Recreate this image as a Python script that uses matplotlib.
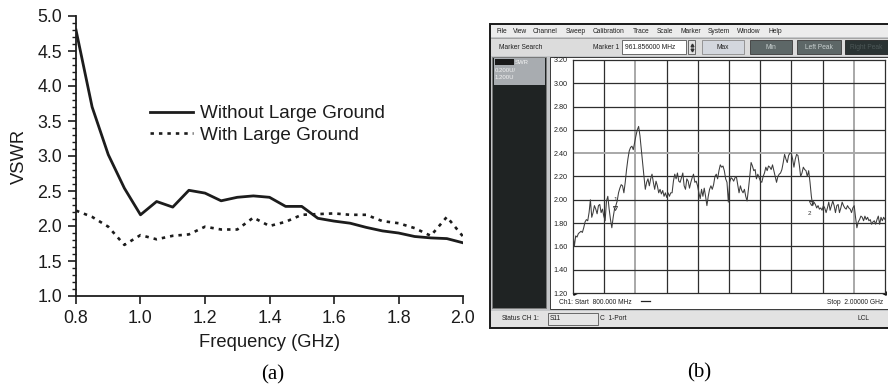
import numpy as np
import matplotlib
matplotlib.use("Agg")
import matplotlib.pyplot as plt
from matplotlib.patches import Rectangle
from matplotlib.ticker import MultipleLocator

# ---------------- data: panel (a) ----------------
freq_a = [0.80, 0.85, 0.90, 0.95, 1.00, 1.05, 1.10, 1.15, 1.20, 1.25, 1.30, 1.35, 1.40,
          1.45, 1.50, 1.55, 1.60, 1.65, 1.70, 1.75, 1.80, 1.85, 1.90, 1.95, 2.00]
vswr_without = [4.80, 3.70, 3.02, 2.54, 2.16, 2.35, 2.27, 2.51, 2.47, 2.36, 2.41, 2.43, 2.41,
                2.28, 2.28, 2.11, 2.07, 2.04, 1.98, 1.93, 1.90, 1.85, 1.83, 1.82, 1.76]
vswr_with = [2.22, 2.13, 1.99, 1.73, 1.87, 1.81, 1.86, 1.88, 1.99, 1.95, 1.95, 2.12, 2.00,
             2.06, 2.16, 2.17, 2.18, 2.16, 2.16, 2.07, 2.04, 1.97, 1.86, 2.13, 1.85]
legend_labels = ["Without Large Ground", "With Large Ground"]

# ---------------- data: panel (b) (VNA screenshot) ----------------
vna_start_ghz = 0.8
vna_stop_ghz = 2.0
vna_vswr = [
    1.71, 1.60, 1.69, 1.68, 1.71, 1.72, 1.73, 1.72, 1.76, 1.81, 1.83, 1.82, 1.89, 2.00, 1.85,
    1.89, 1.95, 1.92, 1.88, 1.95, 1.96, 1.89, 1.92, 1.86, 1.82, 1.99, 2.03, 1.92, 1.83,
    1.76, 1.85, 1.92, 1.95, 1.99, 2.06, 2.10, 2.13, 2.12, 2.06, 2.15, 2.26, 2.35, 2.42, 2.45,
    2.46, 2.43, 2.49, 2.55, 2.60,
    2.63, 2.55, 2.43, 2.32, 2.20, 2.09, 2.15, 2.18, 2.12, 2.18, 2.22, 2.15, 2.09, 2.16, 2.12,
    2.06, 2.09, 2.05, 2.08, 2.03, 2.06, 2.02, 2.06, 2.03, 2.06, 2.06, 2.16, 2.22, 2.18, 2.23,
    2.16, 2.15, 2.19, 2.23, 2.12, 2.09, 2.18, 2.16, 2.10, 2.15, 2.19, 2.22, 2.15, 2.16, 2.12,
    2.06, 2.01, 2.09, 2.03, 2.10, 2.03, 1.95, 2.03, 2.09, 2.12, 2.09, 2.13, 2.20, 2.22, 2.18,
    2.25, 2.30, 2.28, 2.29, 2.25, 2.18, 2.15, 1.98, 2.15, 2.19, 2.18, 2.16, 2.19, 2.20, 2.13,
    2.06, 2.12, 2.08, 2.06, 2.09, 2.03, 1.99, 2.09, 2.20, 2.32, 2.29, 2.25, 2.26, 2.18, 2.22,
    2.19, 2.16, 2.15, 2.20, 2.23, 2.28, 2.25, 2.29, 2.28, 2.26, 2.30, 2.25, 2.20, 2.15, 2.20,
    2.22, 2.23, 2.26, 2.32, 2.39, 2.35, 2.32, 2.38, 2.40, 2.40, 2.35, 2.28, 2.35, 2.39, 2.38,
    2.30, 2.20, 2.23, 2.28, 2.26, 2.25, 2.20, 2.25, 2.15, 2.03, 1.95, 1.98, 1.96, 1.93, 1.95,
    1.92, 1.93, 1.91, 1.95, 1.93, 1.89, 1.93, 1.98, 1.91, 1.95, 1.99, 1.95, 1.89, 1.95, 1.96,
    1.89, 1.93, 1.98, 1.95, 1.93, 1.92, 1.95, 1.93, 1.92, 1.89, 1.93, 1.95, 1.85, 1.76, 1.81,
    1.83, 1.86, 1.85, 1.82, 1.86, 1.83, 1.85, 1.82, 1.83, 1.79, 1.81, 1.82, 1.79, 1.83, 1.86,
    1.79, 1.85, 1.82, 1.85, 1.83]
vna_freq = np.linspace(vna_start_ghz, vna_stop_ghz, len(vna_vswr))  # evenly spaced sweep points
marker_ids = ["1", "2"]
marker_freq = [0.961856, 1.714484]
marker_val = [1.898, 1.987]
marker_freq_text = ["961.856000 MHz", "1.714484 GHz"]
menu_items = ["File", "View", "Channel", "Sweep", "Calibration", "Trace", "Scale",
              "Marker", "System", "Window", "Help"]
vna_yticks = [1.20, 1.40, 1.60, 1.80, 2.00, 2.20, 2.40, 2.60, 2.80, 3.00, 3.20]

# ---------------- figure ----------------
W, H = 888, 389
fig = plt.figure(figsize=(W / 100, H / 100), dpi=100)
fig.patch.set_facecolor("white")
SANS = ["Liberation Sans", "DejaVu Sans"]
SERIF = ["Liberation Serif", "DejaVu Serif"]

def fbox(x0, y0, x1, y1):
    return [x0 / W, 1 - y1 / H, (x1 - x0) / W, (y1 - y0) / H]

# ---- panel (a)
ax = fig.add_axes(fbox(76, 16, 463, 296))
ax.plot(freq_a, vswr_without, color="#1c1c1c", lw=2.0, label=legend_labels[0])
ax.plot(freq_a, vswr_with, color="#1c1c1c", lw=1.9, ls=(0, (1.3, 1.9)), label=legend_labels[1])
ax.set_xlim(0.8, 2.0)
ax.set_ylim(1.0, 5.0)
ax.xaxis.set_major_locator(MultipleLocator(0.2))
ax.yaxis.set_major_locator(MultipleLocator(0.5))
ax.yaxis.set_minor_locator(MultipleLocator(0.1))
ax.xaxis.set_major_formatter(matplotlib.ticker.FormatStrFormatter("%.1f"))
ax.yaxis.set_major_formatter(matplotlib.ticker.FormatStrFormatter("%.1f"))
for s in ["top", "right"]:
    ax.spines[s].set_visible(False)
for s in ["left", "bottom"]:
    ax.spines[s].set_linewidth(1.3)
    ax.spines[s].set_color("#1c1c1c")
ax.tick_params(which="major", direction="out", length=5.5, width=1.2, pad=4.5, labelsize=12.8,
               colors="#1c1c1c")
ax.tick_params(which="minor", direction="out", length=3, width=1.0, colors="#1c1c1c")
for lab in ax.get_xticklabels() + ax.get_yticklabels():
    lab.set_family(SANS)
ax.set_xlabel("Frequency (GHz)", fontsize=13.2, family=SANS, labelpad=5, color="#1c1c1c")
ax.set_ylabel("VSWR", fontsize=13.2, family=SANS, labelpad=7, color="#1c1c1c")
leg = ax.legend(loc="upper left", bbox_to_anchor=(150 / W, 1 - 105 / H),
                bbox_transform=fig.transFigure, frameon=False,
                handlelength=2.3, handletextpad=0.33, labelspacing=0.22,
                borderpad=0, borderaxespad=0, prop={"family": SANS, "size": 13.6})
for t in leg.get_texts():
    t.set_color("#1c1c1c")

fig.text(273 / W, 1 - 375 / H, "(a)", family=SERIF, fontsize=15, ha="center", va="center")
fig.text(699 / W, 1 - 373 / H, "(b)", family=SERIF, fontsize=15, ha="center", va="center")

# ---- panel (b): screenshot chrome drawn in pixel coordinates
g = fig.add_axes([0, 0, 1, 1])
g.set_xlim(0, W)
g.set_ylim(H, 0)
g.axis("off")
g.patch.set_alpha(0)

def rect(x0, y0, x1, y1, fc, ec="none", lw=0.6, z=1):
    g.add_patch(Rectangle((x0, y0), x1 - x0, y1 - y0, facecolor=fc, edgecolor=ec, lw=lw, zorder=z))

def txt(x, y, s, size=4.8, color="#202020", ha="left", z=5, weight="normal"):
    g.text(x, y, s, fontsize=size, color=color, ha=ha, va="center", family=SANS, zorder=z,
           weight=weight)

rect(490, 24, 889, 328, "#c4c6c8", "#1a1a1a", lw=1.4)
rect(491, 25, 888, 37, "#ececec")
g.plot([491, 888], [37.5, 37.5], color="#9a9a9a", lw=0.6, zorder=2)
menu_x = [496, 513, 533, 566, 593, 633, 657, 680, 708, 737, 768]
for mx, m in zip(menu_x, menu_items):
    txt(mx, 31.5, m)
rect(491, 38, 888, 56, "#dcdcdc")
txt(499, 47, "Marker Search")
txt(593, 47, "Marker 1")
rect(622, 40, 686, 54, "white", "#555555", lw=0.6)
txt(625, 47, marker_freq_text[0])
rect(688, 40, 695, 54, "#e2e2e2", "#555555", lw=0.6)
g.plot([691.5], [44.5], marker="^", ms=2, color="#333333", zorder=5)
g.plot([691.5], [49.5], marker="v", ms=2, color="#333333", zorder=5)
rect(702, 40, 744, 54, "#d3d7de", "#8a8a8a", lw=0.6)
txt(723, 47, "Max", ha="center")
rect(750, 40, 792, 54, "#5d6767", "#3a3a3a", lw=0.6)
txt(771, 47, "Min", ha="center", color="#c8d0d0")
rect(797, 40, 841, 54, "#5d6767", "#3a3a3a", lw=0.6)
txt(819, 47, "Left Peak", ha="center", color="#c8d0d0")
rect(845, 40, 889, 54, "#2a3333", "#222222", lw=0.6)
txt(866, 47, "Right Peak", ha="center", color="#4d5858")

# left dark panel
rect(492, 57, 546, 308, "#1f2323", "#7a7a7a", lw=0.6)
rect(494, 58, 545, 85, "#a8acb0")
rect(495, 59, 514, 65, "#1a1a1a")
txt(515, 62, "SWR", size=4.3, color="#f4f4f4")
txt(495, 70, "0.200U/", size=4.3, color="#f4f4f4")
txt(495, 77, "1.200U", size=4.3, color="#f4f4f4")

# white plot panel
rect(550, 57, 888, 309, "white", "#3a3a3a", lw=0.7)
rect(575, 62, 592, 69, "#1a1a1a", z=6)
txt(559, 302, "Ch1: Start  800.000 MHz", size=4.8)
g.plot([641, 650], [301, 301], color="#222222", lw=0.9, zorder=5)
txt(883, 302, "Stop  2.00000 GHz", size=4.8, ha="right")
g.plot([575], [293], marker=">", ms=2.5, color="#111111", zorder=8)
g.plot([884], [293], marker="<", ms=2.5, color="#111111", zorder=8)

# status bar
rect(491, 311, 888, 327, "#e2e2e2")
txt(502, 319, "Status")
txt(522, 319, "CH 1:")
rect(548, 313, 598, 325, "#e6e6e6", "#555555", lw=0.6)
txt(550, 319, "S11")
txt(600, 319, "C  1-Port")
txt(857, 319, "LCL")

# marker readout
txt(787, 64, "> 1:", ha="right", z=9)
txt(790, 64, marker_freq_text[0], z=9)
txt(879, 64, f"{marker_val[0]:.3f}", ha="right", z=9)
txt(787, 72, "2:", ha="right", z=9)
txt(842, 72, marker_freq_text[1], ha="right", z=9)
txt(879, 72, f"{marker_val[1]:.3f}", ha="right", z=9)

# ---- VNA trace axes
vx = fig.add_axes(fbox(573, 60, 885, 293))
vx.set_facecolor("white")
vx.set_xlim(vna_start_ghz, vna_stop_ghz)
vx.set_ylim(1.2, 3.2)
gx = np.linspace(vna_start_ghz, vna_stop_ghz, 11)
vx.set_xticks(gx)
vx.set_yticks(vna_yticks)
vx.set_yticklabels([f"{v:.2f}" for v in vna_yticks])
vx.tick_params(axis="x", length=0, labelbottom=False)
vx.tick_params(axis="y", length=0, pad=4, labelsize=5.2, labelcolor="#202020")
for lab in vx.get_yticklabels():
    lab.set_family(SANS)
for i, xv in enumerate(gx[1:-1], start=1):
    c, lw = ("#a8a8a8", 1.4) if i in (2, 9) else ("#2e2e2e", 0.9)
    vx.axvline(xv, color=c, lw=lw, zorder=1)
for yv in vna_yticks[1:-1]:
    c, lw = ("#a8a8a8", 1.4) if abs(yv - 2.4) < 1e-6 else ("#2e2e2e", 0.9)
    vx.axhline(yv, color=c, lw=lw, zorder=1)
for s in vx.spines.values():
    s.set_color("#2e2e2e")
    s.set_linewidth(0.9)
vx.plot(vna_freq, vna_vswr, color="#3c3c3c", lw=0.75, zorder=3)
vx.plot(marker_freq, [1.93, 1.97], ls="none", marker="v", ms=3, mfc="none", mec="#333333",
        mew=0.6, zorder=4)
vx.text(marker_freq[0], 1.93 + 0.07, marker_ids[0], fontsize=4.5, ha="center", va="center",
        family=SANS, color="#333333", zorder=5)
vx.text(marker_freq[1] - 0.005, 1.97 - 0.09, marker_ids[1], fontsize=4.5, ha="center",
        va="center", family=SANS, color="#333333", zorder=5)

fig.savefig("out.png", dpi=100)
